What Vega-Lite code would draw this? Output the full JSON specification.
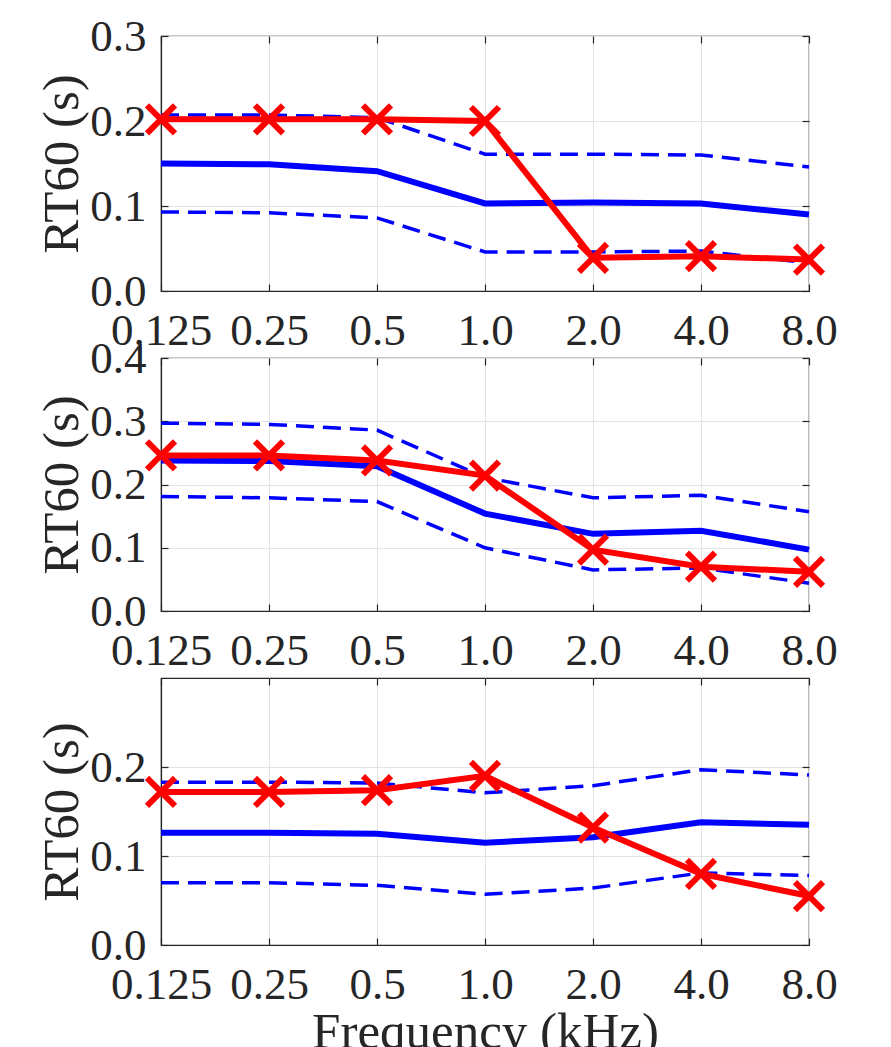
{
  "$schema": "https://vega.github.io/schema/vega-lite/v6.json",
  "background": "white",
  "padding": {"left": 36, "top": 13, "right": 5, "bottom": 5},
  "bounds": "flush",
  "spacing": 67,
  "datasets": {
    "rt": [
      {"p":1,"f":"0.125","s":"mean","v":0.150},{"p":1,"f":"0.25","s":"mean","v":0.149},{"p":1,"f":"0.5","s":"mean","v":0.141},{"p":1,"f":"1.0","s":"mean","v":0.103},{"p":1,"f":"2.0","s":"mean","v":0.104},{"p":1,"f":"4.0","s":"mean","v":0.103},{"p":1,"f":"8.0","s":"mean","v":0.090},
      {"p":1,"f":"0.125","s":"upper","v":0.207},{"p":1,"f":"0.25","s":"upper","v":0.207},{"p":1,"f":"0.5","s":"upper","v":0.204},{"p":1,"f":"1.0","s":"upper","v":0.161},{"p":1,"f":"2.0","s":"upper","v":0.161},{"p":1,"f":"4.0","s":"upper","v":0.160},{"p":1,"f":"8.0","s":"upper","v":0.146},
      {"p":1,"f":"0.125","s":"lower","v":0.093},{"p":1,"f":"0.25","s":"lower","v":0.092},{"p":1,"f":"0.5","s":"lower","v":0.086},{"p":1,"f":"1.0","s":"lower","v":0.046},{"p":1,"f":"2.0","s":"lower","v":0.046},{"p":1,"f":"4.0","s":"lower","v":0.047},{"p":1,"f":"8.0","s":"lower","v":0.033},
      {"p":1,"f":"0.125","s":"meas","v":0.202},{"p":1,"f":"0.25","s":"meas","v":0.202},{"p":1,"f":"0.5","s":"meas","v":0.202},{"p":1,"f":"1.0","s":"meas","v":0.200},{"p":1,"f":"2.0","s":"meas","v":0.039},{"p":1,"f":"4.0","s":"meas","v":0.041},{"p":1,"f":"8.0","s":"meas","v":0.037},
      {"p":2,"f":"0.125","s":"mean","v":0.238},{"p":2,"f":"0.25","s":"mean","v":0.237},{"p":2,"f":"0.5","s":"mean","v":0.229},{"p":2,"f":"1.0","s":"mean","v":0.154},{"p":2,"f":"2.0","s":"mean","v":0.122},{"p":2,"f":"4.0","s":"mean","v":0.127},{"p":2,"f":"8.0","s":"mean","v":0.097},
      {"p":2,"f":"0.125","s":"upper","v":0.297},{"p":2,"f":"0.25","s":"upper","v":0.295},{"p":2,"f":"0.5","s":"upper","v":0.286},{"p":2,"f":"1.0","s":"upper","v":0.211},{"p":2,"f":"2.0","s":"upper","v":0.179},{"p":2,"f":"4.0","s":"upper","v":0.183},{"p":2,"f":"8.0","s":"upper","v":0.157},
      {"p":2,"f":"0.125","s":"lower","v":0.181},{"p":2,"f":"0.25","s":"lower","v":0.179},{"p":2,"f":"0.5","s":"lower","v":0.173},{"p":2,"f":"1.0","s":"lower","v":0.100},{"p":2,"f":"2.0","s":"lower","v":0.065},{"p":2,"f":"4.0","s":"lower","v":0.068},{"p":2,"f":"8.0","s":"lower","v":0.044},
      {"p":2,"f":"0.125","s":"meas","v":0.246},{"p":2,"f":"0.25","s":"meas","v":0.246},{"p":2,"f":"0.5","s":"meas","v":0.238},{"p":2,"f":"1.0","s":"meas","v":0.214},{"p":2,"f":"2.0","s":"meas","v":0.097},{"p":2,"f":"4.0","s":"meas","v":0.070},{"p":2,"f":"8.0","s":"meas","v":0.062},
      {"p":3,"f":"0.125","s":"mean","v":0.126},{"p":3,"f":"0.25","s":"mean","v":0.126},{"p":3,"f":"0.5","s":"mean","v":0.125},{"p":3,"f":"1.0","s":"mean","v":0.115},{"p":3,"f":"2.0","s":"mean","v":0.121},{"p":3,"f":"4.0","s":"mean","v":0.138},{"p":3,"f":"8.0","s":"mean","v":0.135},
      {"p":3,"f":"0.125","s":"upper","v":0.183},{"p":3,"f":"0.25","s":"upper","v":0.183},{"p":3,"f":"0.5","s":"upper","v":0.182},{"p":3,"f":"1.0","s":"upper","v":0.171},{"p":3,"f":"2.0","s":"upper","v":0.179},{"p":3,"f":"4.0","s":"upper","v":0.197},{"p":3,"f":"8.0","s":"upper","v":0.191},
      {"p":3,"f":"0.125","s":"lower","v":0.070},{"p":3,"f":"0.25","s":"lower","v":0.070},{"p":3,"f":"0.5","s":"lower","v":0.067},{"p":3,"f":"1.0","s":"lower","v":0.057},{"p":3,"f":"2.0","s":"lower","v":0.064},{"p":3,"f":"4.0","s":"lower","v":0.081},{"p":3,"f":"8.0","s":"lower","v":0.078},
      {"p":3,"f":"0.125","s":"meas","v":0.172},{"p":3,"f":"0.25","s":"meas","v":0.172},{"p":3,"f":"0.5","s":"meas","v":0.174},{"p":3,"f":"1.0","s":"meas","v":0.190},{"p":3,"f":"2.0","s":"meas","v":0.132},{"p":3,"f":"4.0","s":"meas","v":0.080},{"p":3,"f":"8.0","s":"meas","v":0.055}
    ]
  },
  "data": {"name": "rt"},
  "vconcat": [
    {
      "width": 648, "height": 255,
      "transform": [{"filter": "datum.p == 1"}],
      "layer": [
        {"transform": [{"filter": "datum.s == 'upper' || datum.s == 'lower'"}],
         "mark": {"type": "line", "color": "#0000ff", "strokeWidth": 3.5, "strokeDash": [18, 9]},
         "encoding": {
           "x": {"field": "f", "type": "ordinal", "scale": {"type": "point", "padding": 0, "domain": ["0.125","0.25","0.5","1.0","2.0","4.0","8.0"]}, "axis": {"title": null, "orient": "bottom"}},
           "y": {"field": "v", "type": "quantitative", "scale": {"domain": [0, 0.3]}, "axis": {"title": "RT60 (s)", "orient": "left", "values": [0, 0.1, 0.2, 0.3], "format": ".1f"}},
           "detail": {"field": "s"}}},
        {"transform": [{"filter": "datum.s == 'mean'"}],
         "mark": {"type": "line", "color": "#0000ff", "strokeWidth": 6},
         "encoding": {
           "x": {"field": "f", "type": "ordinal", "scale": {"type": "point", "padding": 0, "domain": ["0.125","0.25","0.5","1.0","2.0","4.0","8.0"]}, "axis": null},
           "y": {"field": "v", "type": "quantitative", "scale": {"domain": [0, 0.3]}, "axis": null}}},
        {"transform": [{"filter": "datum.s == 'meas'"}],
         "mark": {"type": "line", "color": "#ff0000", "strokeWidth": 6},
         "encoding": {
           "x": {"field": "f", "type": "ordinal", "scale": {"type": "point", "padding": 0, "domain": ["0.125","0.25","0.5","1.0","2.0","4.0","8.0"]}, "axis": null},
           "y": {"field": "v", "type": "quantitative", "scale": {"domain": [0, 0.3]}, "axis": null}}},
        {"transform": [{"filter": "datum.s == 'meas'"}],
         "mark": {"type": "point", "shape": "M-1,-1L1,1M-1,1L1,-1", "size": 784, "filled": false, "stroke": "#ff0000", "strokeWidth": 6, "opacity": 1},
         "encoding": {
           "x": {"field": "f", "type": "ordinal", "scale": {"type": "point", "padding": 0, "domain": ["0.125","0.25","0.5","1.0","2.0","4.0","8.0"]}, "axis": {"title": null, "orient": "top", "labels": false, "grid": false, "domain": false}},
           "y": {"field": "v", "type": "quantitative", "scale": {"domain": [0, 0.3]}, "axis": {"title": null, "orient": "right", "labels": false, "grid": false, "domain": false, "values": [0, 0.1, 0.2, 0.3]}}}}
      ],
      "resolve": {"axis": {"x": "independent", "y": "independent"}}
    },
    {
      "width": 648, "height": 253,
      "transform": [{"filter": "datum.p == 2"}],
      "layer": [
        {"transform": [{"filter": "datum.s == 'upper' || datum.s == 'lower'"}],
         "mark": {"type": "line", "color": "#0000ff", "strokeWidth": 3.5, "strokeDash": [18, 9]},
         "encoding": {
           "x": {"field": "f", "type": "ordinal", "scale": {"type": "point", "padding": 0, "domain": ["0.125","0.25","0.5","1.0","2.0","4.0","8.0"]}, "axis": {"title": null, "orient": "bottom"}},
           "y": {"field": "v", "type": "quantitative", "scale": {"domain": [0, 0.4]}, "axis": {"title": "RT60 (s)", "orient": "left", "values": [0, 0.1, 0.2, 0.3, 0.4], "format": ".1f"}},
           "detail": {"field": "s"}}},
        {"transform": [{"filter": "datum.s == 'mean'"}],
         "mark": {"type": "line", "color": "#0000ff", "strokeWidth": 6},
         "encoding": {
           "x": {"field": "f", "type": "ordinal", "scale": {"type": "point", "padding": 0, "domain": ["0.125","0.25","0.5","1.0","2.0","4.0","8.0"]}, "axis": null},
           "y": {"field": "v", "type": "quantitative", "scale": {"domain": [0, 0.4]}, "axis": null}}},
        {"transform": [{"filter": "datum.s == 'meas'"}],
         "mark": {"type": "line", "color": "#ff0000", "strokeWidth": 6},
         "encoding": {
           "x": {"field": "f", "type": "ordinal", "scale": {"type": "point", "padding": 0, "domain": ["0.125","0.25","0.5","1.0","2.0","4.0","8.0"]}, "axis": null},
           "y": {"field": "v", "type": "quantitative", "scale": {"domain": [0, 0.4]}, "axis": null}}},
        {"transform": [{"filter": "datum.s == 'meas'"}],
         "mark": {"type": "point", "shape": "M-1,-1L1,1M-1,1L1,-1", "size": 784, "filled": false, "stroke": "#ff0000", "strokeWidth": 6, "opacity": 1},
         "encoding": {
           "x": {"field": "f", "type": "ordinal", "scale": {"type": "point", "padding": 0, "domain": ["0.125","0.25","0.5","1.0","2.0","4.0","8.0"]}, "axis": {"title": null, "orient": "top", "labels": false, "grid": false, "domain": false}},
           "y": {"field": "v", "type": "quantitative", "scale": {"domain": [0, 0.4]}, "axis": {"title": null, "orient": "right", "labels": false, "grid": false, "domain": false, "values": [0, 0.1, 0.2, 0.3, 0.4]}}}}
      ],
      "resolve": {"axis": {"x": "independent", "y": "independent"}}
    },
    {
      "width": 648, "height": 267,
      "transform": [{"filter": "datum.p == 3"}],
      "layer": [
        {"transform": [{"filter": "datum.s == 'upper' || datum.s == 'lower'"}],
         "mark": {"type": "line", "color": "#0000ff", "strokeWidth": 3.5, "strokeDash": [18, 9]},
         "encoding": {
           "x": {"field": "f", "type": "ordinal", "scale": {"type": "point", "padding": 0, "domain": ["0.125","0.25","0.5","1.0","2.0","4.0","8.0"]}, "axis": {"title": "Frequency (kHz)", "orient": "bottom", "titlePadding": 0}},
           "y": {"field": "v", "type": "quantitative", "scale": {"domain": [0, 0.3]}, "axis": {"title": "RT60 (s)", "orient": "left", "values": [0, 0.1, 0.2], "format": ".1f"}},
           "detail": {"field": "s"}}},
        {"transform": [{"filter": "datum.s == 'mean'"}],
         "mark": {"type": "line", "color": "#0000ff", "strokeWidth": 6},
         "encoding": {
           "x": {"field": "f", "type": "ordinal", "scale": {"type": "point", "padding": 0, "domain": ["0.125","0.25","0.5","1.0","2.0","4.0","8.0"]}, "axis": null},
           "y": {"field": "v", "type": "quantitative", "scale": {"domain": [0, 0.3]}, "axis": null}}},
        {"transform": [{"filter": "datum.s == 'meas'"}],
         "mark": {"type": "line", "color": "#ff0000", "strokeWidth": 6},
         "encoding": {
           "x": {"field": "f", "type": "ordinal", "scale": {"type": "point", "padding": 0, "domain": ["0.125","0.25","0.5","1.0","2.0","4.0","8.0"]}, "axis": null},
           "y": {"field": "v", "type": "quantitative", "scale": {"domain": [0, 0.3]}, "axis": null}}},
        {"transform": [{"filter": "datum.s == 'meas'"}],
         "mark": {"type": "point", "shape": "M-1,-1L1,1M-1,1L1,-1", "size": 784, "filled": false, "stroke": "#ff0000", "strokeWidth": 6, "opacity": 1},
         "encoding": {
           "x": {"field": "f", "type": "ordinal", "scale": {"type": "point", "padding": 0, "domain": ["0.125","0.25","0.5","1.0","2.0","4.0","8.0"]}, "axis": {"title": null, "orient": "top", "labels": false, "grid": false, "domain": false}},
           "y": {"field": "v", "type": "quantitative", "scale": {"domain": [0, 0.3]}, "axis": {"title": null, "orient": "right", "labels": false, "grid": false, "domain": false, "values": [0, 0.1, 0.2]}}}}
      ],
      "resolve": {"axis": {"x": "independent", "y": "independent"}}
    }
  ],
  "config": {
    "view": {"stroke": "#262626", "strokeWidth": 1.2},
    "style": {"guide-label": {"font": "Liberation Serif"}, "guide-title": {"font": "Liberation Serif"}},
    "axis": {
      "labelFont": "Liberation Serif", "titleFont": "Liberation Serif",
      "labelFontSize": 45, "titleFontSize": 51,
      "labelColor": "#262626", "titleFontWeight": "normal", "titleColor": "#262626",
      "domainColor": "#262626", "domainWidth": 1.2, "tickColor": "#262626", "tickWidth": 1.2, "tickSize": -7,
      "gridColor": "#e3e3e3", "gridWidth": 1, "grid": true,
      "labelAngle": 0, "labelOverlap": false, "labelPadding": 24, "titlePadding": 1
    },
    "axisY": {"labelPadding": 22}
  }
}
